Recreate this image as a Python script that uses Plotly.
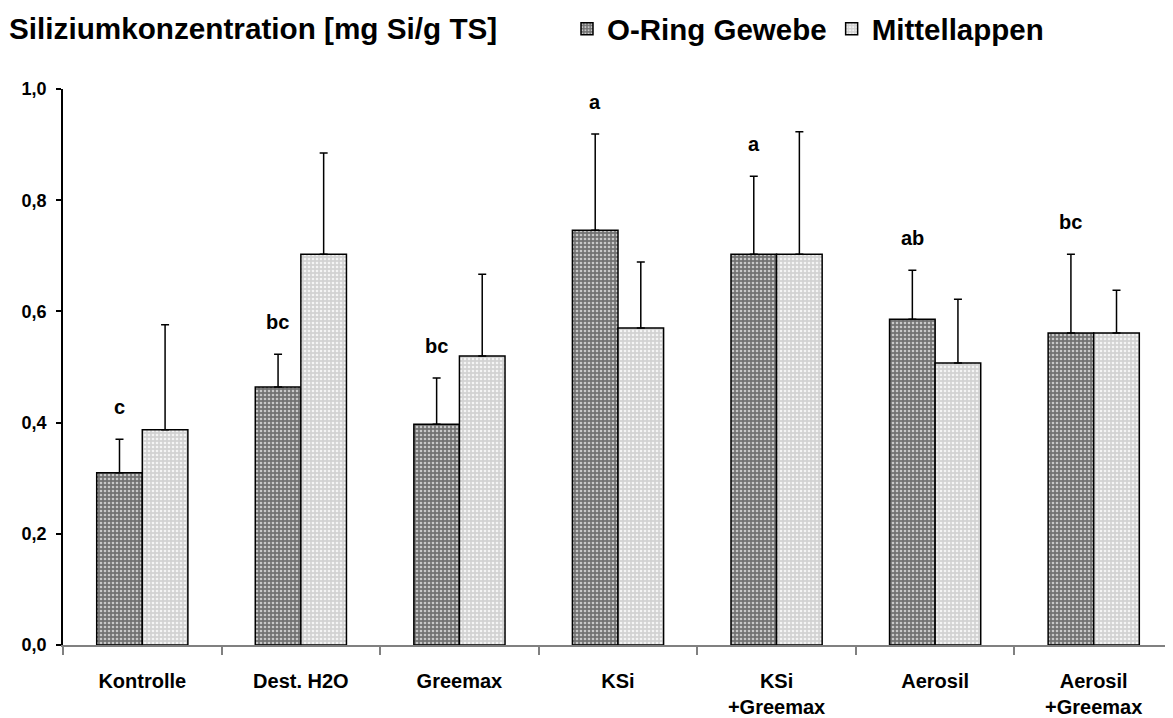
import plotly.graph_objects as go

categories = ["Kontrolle", "Dest. H2O", "Greemax", "KSi", "KSi<br>+Greemax", "Aerosil", "Aerosil<br>+Greemax"]
oring_mean = [0.310, 0.464, 0.397, 0.746, 0.703, 0.586, 0.561]
oring_sd = [0.060, 0.059, 0.083, 0.173, 0.140, 0.088, 0.142]
mittel_mean = [0.387, 0.703, 0.520, 0.570, 0.703, 0.507, 0.561]
mittel_sd = [0.189, 0.182, 0.147, 0.119, 0.220, 0.115, 0.077]
letters = ["c", "bc", "bc", "a", "a", "ab", "bc"]
ytick_vals = [0.0, 0.2, 0.4, 0.6, 0.8, 1.0]

FONT = "Liberation Sans, Arial, sans-serif"

fig = go.Figure()
fig.add_trace(go.Bar(
    name="O-Ring Gewebe", x=categories, y=oring_mean,
    marker=dict(color="#777777", line=dict(color="black", width=1.5),
                pattern=dict(shape=".", bgcolor="#727272", fgcolor="#c8c8c8", size=4, solidity=0.35, fillmode="replace")),
    error_y=dict(type="data", symmetric=False, array=oring_sd, arrayminus=[0]*len(oring_sd),
                 color="black", thickness=1.5, width=4),
))
fig.add_trace(go.Bar(
    name="Mittellappen", x=categories, y=mittel_mean,
    marker=dict(color="#d6d6d6", line=dict(color="black", width=1.5),
                pattern=dict(shape=".", bgcolor="#d2d2d2", fgcolor="#f4f4f4", size=4, solidity=0.35, fillmode="replace")),
    error_y=dict(type="data", symmetric=False, array=mittel_sd, arrayminus=[0]*len(mittel_sd),
                 color="black", thickness=1.5, width=4),
))

for cat, m, s, lab in zip(categories, oring_mean, oring_sd, letters):
    fig.add_annotation(x=cat, y=m + s, text=lab, showarrow=False, xref="x", yref="y",
                       xshift=-23, yshift=32, yanchor="middle",
                       font=dict(family=FONT, size=20, color="black", weight="bold"))

fig.update_layout(
    width=1165, height=710,
    margin=dict(l=55, r=0, t=81, b=73, autoexpand=False),
    paper_bgcolor="white", plot_bgcolor="white",
    separators=",.",
    barmode="group", bargap=0.425, bargroupgap=0,
    font=dict(family=FONT, color="black", weight="bold"),
    title=dict(text="Siliziumkonzentration [mg Si/g TS]", x=1/1165, xanchor="left", xref="container",
               y=1-21/710, yanchor="middle", yref="container", pad=dict(l=0, r=0, t=0, b=0),
               font=dict(family=FONT, size=29.7, color="black", weight="bold")),
    legend=dict(orientation="h", x=(567-63)/1110, xanchor="left", y=1+60/556, yanchor="middle",
                font=dict(family=FONT, size=29.5, color="black", weight="bold"),
                itemwidth=30, tracegroupgap=0, bgcolor="rgba(0,0,0,0)"),
    showlegend=True,
)
fig.update_xaxes(range=[-0.5, 6.5], showline=True, linecolor="#808080", linewidth=1.5,
                 ticks="outside", tickson="boundaries", ticklen=8, tickcolor="#808080", tickwidth=1.5,
                 ticklabelstandoff=17,
                 tickfont=dict(family=FONT, size=20, color="black", weight="bold"), showgrid=False)
fig.update_yaxes(range=[0, 1.0], tickvals=ytick_vals, tickformat=".1f", showline=True, linecolor="black",
                 linewidth=1.5, ticks="outside", ticklen=5, tickcolor="black", tickwidth=1.5,
                 ticklabelstandoff=6,
                 tickfont=dict(family=FONT, size=18, color="black", weight="bold"),
                 showgrid=False, zeroline=False)

fig.write_html("out.html")
